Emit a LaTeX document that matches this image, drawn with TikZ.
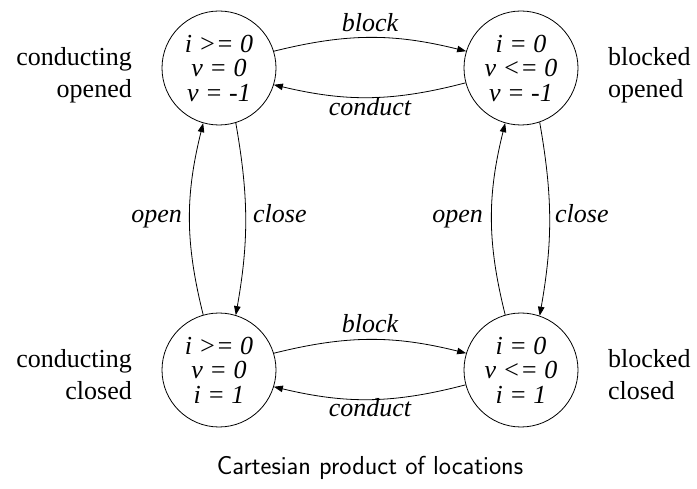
\documentclass[tikz,border=0pt]{standalone}
\usepackage{fontspec}
\setmainfont{Liberation Serif}
\usetikzlibrary{arrows.meta}
\tikzset{
  state/.style={circle, draw, line width=0.8pt, minimum size=114pt, inner sep=0pt,
    align=center, font=\itshape\fontsize{26}{24.5}\selectfont},
  trans/.style={-{Triangle[length=9pt,width=6.5pt]}, line width=0.8pt},
  elabel/.style={inner sep=0pt, font=\itshape\fontsize{26}{31}\selectfont},
  side/.style={inner sep=0pt, font=\fontsize{26}{32}\selectfont},
}
\begin{document}
\begin{tikzpicture}[x=1pt,y=1pt]
\useasboundingbox (0,0) rectangle (697,488);
% locations
\node[state] (tl) at (219,420) {i >= 0\\v = 0\\v = -1};
\node[state] (tr) at (521,420) {i = 0\\v <= 0\\v = -1};
\node[state] (bl) at (219,118) {i >= 0\\v = 0\\i = 1};
\node[state] (br) at (521,118) {i = 0\\v <= 0\\i = 1};
% location names
\node[side, align=right, anchor=east] (ltn) at (132,413) {conducting\\opened};
\node[side, align=left, anchor=west] (rtn) at (608,413) {blocked\\opened};
\node[side, align=right, anchor=east] (lbn) at (132,113) {conducting\\closed};
\node[side, align=left, anchor=west] (rbn) at (608,113) {blocked\\closed};
% transitions
\draw[trans] (tl.17) to[bend left=14] (tr.163);
\draw[trans] (tr.195) to[bend left=14] (tl.343);
\draw[trans] (bl.17) to[bend left=14] (br.163);
\draw[trans] (br.195) to[bend left=14] (bl.343);
\draw[trans] (bl.106) to[bend left=14] (tl.254);
\draw[trans] (tl.287) to[bend left=10] (bl.73);
\draw[trans] (br.106) to[bend left=14] (tr.254);
\draw[trans] (tr.289) to[bend left=10] (br.71);
% transition labels
\node[elabel, anchor=base] (lb1) at (370,456) {block};
\node[elabel, anchor=base] (lc1) at (370,372) {conduct};
\node[elabel, anchor=base] (lb2) at (370,155) {block};
\node[elabel, anchor=base] (lc2) at (370,71) {conduct};
\node[elabel, anchor=base east] (lo1) at (182,265) {open};
\node[elabel, anchor=base west] (lz1) at (253,265) {close};
\node[elabel, anchor=base east] (lo2) at (483,265) {open};
\node[elabel, anchor=base west] (lz2) at (555,265) {close};
% caption
\node[inner sep=0pt, anchor=base, font=\sffamily\fontsize{26}{30}\selectfont] (cap) at (370,13) {Cartesian product of locations};
\end{tikzpicture}
\end{document}
